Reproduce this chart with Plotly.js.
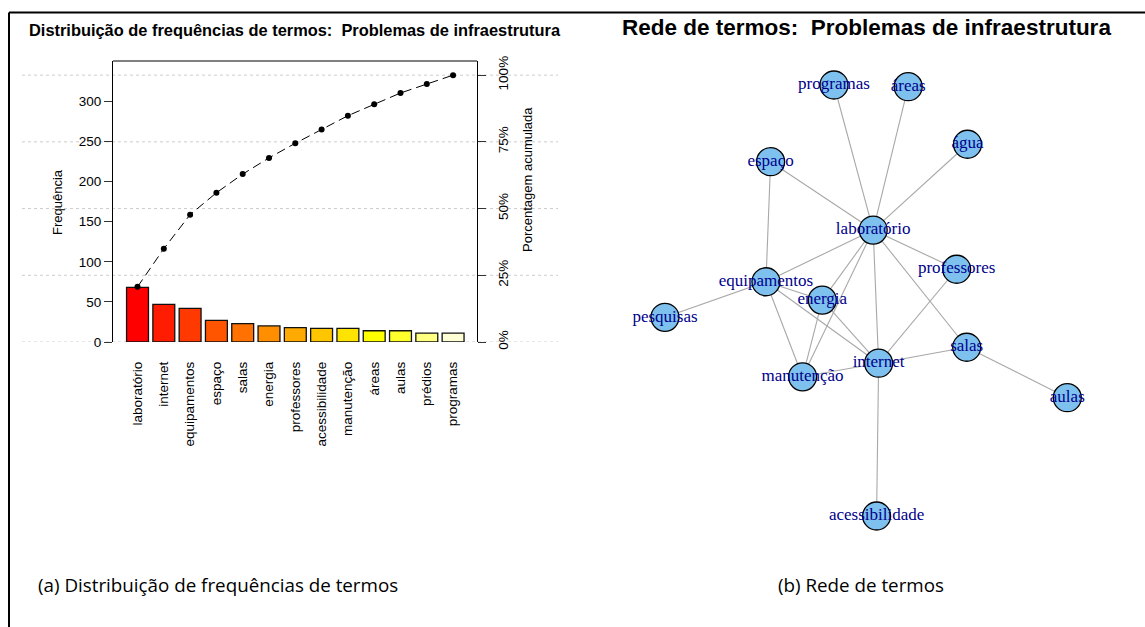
<!DOCTYPE html>
<html><head><meta charset="utf-8">
<script src="https://cdn.plot.ly/plotly-3.0.1.min.js"></script>
<style>html,body{margin:0;padding:0;background:#fff}#chart{width:1145px;height:627px}</style>
</head><body><div id="chart"></div>
<script>
// ---- Pareto chart data ----
const terms = ['laboratório','internet','equipamentos','espaço','salas','energia','professores','acessibilidade','manutenção','áreas','aulas','prédios','programas'];
const frequencies = [68,47,42,27,23,20,18,17,17,14,14,11,11];
const barColors = ['#FF0000','#FF1C00','#FF3900','#FF5500','#FF7100','#FF8E00','#FFAA00','#FFC600','#FFE300','#FFFF00','#FFFF2B','#FFFF80','#FFFFD5'];
const freqTicks = [0,50,100,150,200,250,300];
const pctTicks = [0,25,50,75,100];

// ---- Network data (layout coordinates, normalised to [-1,1]) ----
const nodeNames = ['laboratório','internet','equipamentos','espaço','salas','energia','professores','acessibilidade','manutenção','áreas','aulas','programas','água','pesquisas'];
const nodeX = [0.035, 0.062, -0.498, -0.475, 0.500, -0.218, 0.450, 0.052, -0.316, 0.209, 1.000, -0.160, 0.504, -1.000];
const nodeY = [0.327, -0.291, 0.087, 0.644, -0.217, 0.002, 0.145, -1.000, -0.354, 0.992, -0.451, 1.000, 0.725, -0.078];
const edgeFrom = ['laboratório','laboratório','laboratório','laboratório','espaço','laboratório','laboratório','laboratório','laboratório','laboratório','laboratório','equipamentos','equipamentos','equipamentos','equipamentos','energia','energia','professores','internet','internet','internet','salas'];
const edgeTo   = ['programas','áreas','água','espaço','equipamentos','equipamentos','professores','energia','manutenção','internet','salas','pesquisas','energia','manutenção','internet','internet','manutenção','internet','salas','manutenção','acessibilidade','aulas'];

const W = 1145, H = 627;
const px = v => v / W;
const py = v => 1 - v / H;

const idx = terms.map((_, i) => i);
const total = frequencies.reduce((a, b) => a + b, 0);
let run = 0;
const cumPct = frequencies.map(f => { run += f; return run / total * 100; });

const ex = [], ey = [];
edgeFrom.forEach((a, k) => {
  const i = nodeNames.indexOf(a), j = nodeNames.indexOf(edgeTo[k]);
  ex.push(nodeX[i], nodeX[j], null);
  ey.push(nodeY[i], nodeY[j], null);
});

const sansFont = 'Liberation Sans, Arial, sans-serif';
const tickSize = 13.5;

const traces = [
  {type: 'bar', x: idx, y: frequencies, width: 0.833, xaxis: 'x', yaxis: 'y',
   marker: {color: barColors, line: {color: '#111', width: 1.3}}, hoverinfo: 'x+y'},
  {type: 'scatter', mode: 'lines+markers', x: idx, y: cumPct, xaxis: 'x', yaxis: 'y2',
   line: {color: '#000', width: 1, dash: '9px,5px'}, marker: {color: '#000', size: 6}, cliponaxis: false},
  {type: 'scatter', mode: 'lines', x: ex, y: ey, xaxis: 'x3', yaxis: 'y3',
   line: {color: '#A8A8A8', width: 1.1}, hoverinfo: 'skip'},
  {type: 'scatter', mode: 'markers+text', x: nodeX, y: nodeY, xaxis: 'x3', yaxis: 'y3',
   text: nodeNames, textposition: 'middle center', cliponaxis: false,
   textfont: {family: 'Liberation Serif, Times New Roman, serif', size: 17, color: '#00008B'},
   marker: {size: 28, color: '#7EC0EE', line: {color: '#000', width: 1.3}}}
];

const gridShapes = pctTicks.map(p => ({type: 'line', xref: 'paper', yref: 'y2', x0: px(22), x1: px(558), y0: p, y1: p,
  line: {color: '#CCCCCC', width: 1, dash: 'dot'}, layer: 'below'}));

const layout = {
  width: W, height: H, margin: {l: 0, r: 0, t: 0, b: 0},
  paper_bgcolor: '#fff', plot_bgcolor: 'rgba(0,0,0,0)', showlegend: false,
  font: {family: sansFont, size: 13, color: '#000'},
  xaxis: {domain: [px(113), px(477)], range: [-0.932, 12.909], tickvals: idx, ticktext: terms,
    tickangle: -90, ticks: '', showline: false, showgrid: false, zeroline: false,
    ticklabelstandoff: 16, tickfont: {family: sansFont, size: tickSize}, anchor: 'y', fixedrange: true},
  yaxis: {domain: [py(342), py(61)], range: [0, 350.4], tickvals: freqTicks,
    ticks: 'outside', ticklen: 8, tickcolor: '#333', showline: true, linecolor: '#000', linewidth: 1,
    showgrid: false, zeroline: false, tickfont: {family: sansFont, size: tickSize}, anchor: 'x', fixedrange: true},
  yaxis2: {overlaying: 'y', side: 'right', anchor: 'x', range: [0, 105.3], tickvals: pctTicks,
    ticktext: pctTicks.map(v => v + '%'), tickangle: -90, ticklabelstandoff: 6,
    ticks: 'outside', ticklen: 8, tickcolor: '#333', showline: true, linecolor: '#000', linewidth: 1,
    showgrid: false, zeroline: false, tickfont: {family: sansFont, size: tickSize}, fixedrange: true},
  xaxis3: {domain: [0.5632, 0.9497], range: [-1.1, 1.1], visible: false, anchor: 'y3', fixedrange: true},
  yaxis3: {domain: [0.14266, 0.89880], range: [-1.1, 1.1], visible: false, anchor: 'x3', fixedrange: true},
  shapes: [
    ...gridShapes,
    {type: 'line', xref: 'paper', yref: 'paper', x0: px(113), x1: px(477), y0: py(61), y1: py(61), line: {color: '#000', width: 1}},
    {type: 'line', xref: 'paper', yref: 'paper', x0: px(9), x1: px(1145), y0: py(12.5), y1: py(12.5), line: {color: '#000', width: 2}},
    {type: 'line', xref: 'paper', yref: 'paper', x0: px(9), x1: px(9), y0: py(12.5), y1: py(627), line: {color: '#000', width: 2}}
  ],
  annotations: [
    {text: '<b>Distribuição de frequências de termos:  Problemas de infraestrutura</b>', xref: 'paper', yref: 'paper',
     x: px(295), y: py(30), showarrow: false, xanchor: 'center', yanchor: 'middle', font: {family: sansFont, size: 16.4}},
    {text: '<b>Rede de termos:  Problemas de infraestrutura</b>', xref: 'paper', yref: 'paper',
     x: px(866), y: py(27), showarrow: false, xanchor: 'center', yanchor: 'middle', font: {family: sansFont, size: 22.5}},
    {text: 'Frequência', xref: 'paper', yref: 'paper', x: px(57), y: py(202), textangle: -90, showarrow: false,
     xanchor: 'center', yanchor: 'middle', font: {family: sansFont, size: 13}},
    {text: 'Porcentagem acumulada', xref: 'paper', yref: 'paper', x: px(528), y: py(180), textangle: -90, showarrow: false,
     xanchor: 'center', yanchor: 'middle', font: {family: sansFont, size: 13}},
    {text: '(a) Distribuição de frequências de termos', xref: 'paper', yref: 'paper', x: px(218), y: py(585), showarrow: false,
     xanchor: 'center', yanchor: 'middle', font: {family: 'Open Sans, sans-serif', size: 18.8}},
    {text: '(b) Rede de termos', xref: 'paper', yref: 'paper', x: px(861), y: py(585), showarrow: false,
     xanchor: 'center', yanchor: 'middle', font: {family: 'Open Sans, sans-serif', size: 18.8}}
  ]
};

Plotly.newPlot('chart', traces, layout, {displayModeBar: false, staticPlot: true});
</script>
</body></html>
